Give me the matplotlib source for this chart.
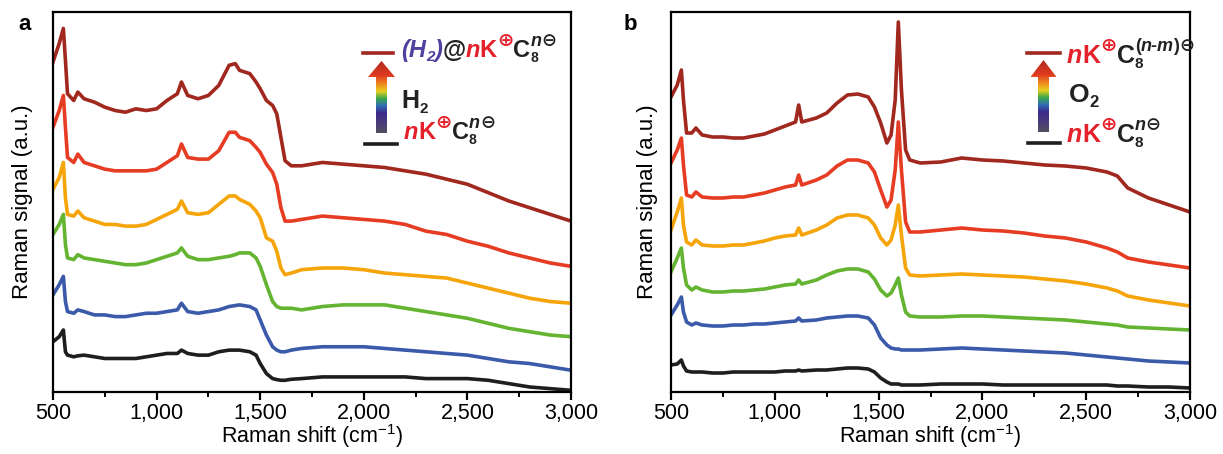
import numpy as np
import matplotlib
matplotlib.use('Agg')
import matplotlib.pyplot as plt
from matplotlib.patches import Polygon
from matplotlib.colors import LinearSegmentedColormap
from matplotlib.ticker import MultipleLocator

plt.rcParams.update({
    'font.family': ['Liberation Sans', 'DejaVu Sans'],
    'mathtext.default': 'regular',
    'font.size': 16,
    'axes.linewidth': 1.6,
    'xtick.major.width': 1.6,
    'xtick.minor.width': 1.4,
    'xtick.major.size': 6,
    'xtick.minor.size': 3.5,
    'xtick.direction': 'out',
    'xtick.labelsize': 15.5,
})

# ------------------------------------------------------------
# Data (arbitrary units)
# ------------------------------------------------------------
shift_a = [500, 530, 550, 560, 570, 600, 620, 650, 700, 750, 800, 850, 900, 950,
           1000, 1050, 1100, 1120, 1150, 1200, 1250, 1300, 1350, 1380, 1400, 1450,
           1480, 1500, 1530, 1560, 1580, 1600, 1620, 1650, 1700, 1800, 1900, 2000,
           2100, 2200, 2300, 2400, 2500, 2600, 2700, 2800, 2900, 3000]

a_black = [150, 165, 185, 120, 110, 105, 108, 110, 105, 100, 100, 100, 100, 105,
           110, 115, 115, 125, 115, 110, 110, 120, 125, 125, 125, 120,
           110, 85, 55, 40, 37, 35, 35, 38, 40, 45, 45, 45,
           45, 45, 40, 40, 40, 35, 25, 15, 10, 5]
a_blue = [290, 320, 345, 270, 240, 235, 245, 240, 230, 230, 225, 225, 230, 235,
          235, 240, 245, 265, 240, 235, 240, 245, 255, 258, 260, 255,
          245, 215, 170, 135, 125, 120, 120, 125, 130, 135, 135, 135,
          130, 125, 120, 115, 110, 100, 90, 85, 75, 65]
a_green = [470, 500, 530, 440, 400, 395, 410, 400, 395, 390, 385, 380, 380, 385,
           395, 405, 415, 430, 405, 395, 395, 400, 405, 410, 415, 415,
           400, 375, 320, 270, 255, 250, 250, 250, 245, 255, 260, 260,
           260, 250, 240, 230, 220, 205, 190, 180, 170, 165]
a_orange = [605, 640, 685, 580, 530, 525, 540, 520, 510, 500, 500, 495, 495, 500,
            515, 530, 545, 570, 535, 530, 535, 560, 585, 585, 575, 560,
            540, 520, 460, 450, 420, 370, 350, 355, 365, 370, 370, 365,
            355, 350, 345, 340, 325, 310, 295, 280, 270, 265]
a_red = [790, 840, 885, 790, 700, 685, 710, 685, 675, 665, 660, 660, 660, 660,
         665, 685, 705, 740, 700, 695, 695, 720, 775, 775, 760, 750,
         730, 715, 680, 655, 620, 550, 510, 510, 515, 525, 520, 515,
         510, 500, 480, 470, 450, 435, 415, 400, 385, 375]
a_darkred = [985, 1040, 1085, 990, 890, 870, 895, 875, 865, 850, 840, 835, 845, 840,
             845, 870, 890, 925, 885, 875, 885, 915, 975, 980, 960, 950,
             925, 905, 870, 855, 830, 760, 690, 675, 675, 685, 680, 675,
             670, 660, 650, 635, 620, 595, 570, 550, 530, 510]

shift_b = [500, 530, 550, 560, 575, 600, 620, 650, 700, 750, 800, 850, 900, 950,
           1000, 1050, 1100, 1115, 1130, 1200, 1250, 1300, 1350, 1400, 1450, 1480,
           1510, 1540, 1560, 1580, 1595, 1610, 1630, 1650, 1700, 1800, 1900, 2000,
           2100, 2200, 2300, 2400, 2500, 2600, 2650, 2700, 2800, 2900, 3000]

b_black = [27, 28, 32, 26, 21, 20, 20, 20, 19, 19, 20, 20, 20, 20,
           20, 21, 21, 22, 21, 22, 22, 23, 24, 24, 23, 20,
           14, 10, 8, 8, 8, 7, 7, 7, 7, 8, 8, 8,
           7, 7, 7, 7, 7, 7, 6, 6, 5, 5, 4]
b_blue = [77, 87, 95, 80, 70, 67, 69, 67, 66, 66, 67, 67, 68, 68,
          69, 70, 71, 74, 71, 72, 74, 75, 76, 76, 74, 67,
          54, 47, 44, 43, 43, 42, 42, 42, 42, 43, 44, 43,
          42, 41, 40, 39, 37, 35, 34, 33, 31, 30, 29]
b_green = [120, 134, 144, 124, 107, 102, 105, 102, 100, 100, 101, 101, 102, 103,
           105, 107, 108, 112, 108, 112, 117, 121, 123, 123, 120, 113,
           102, 96, 99, 107, 114, 97, 80, 76, 75, 75, 76, 76,
           75, 74, 73, 72, 70, 68, 67, 65, 64, 63, 62]
b_orange = [162, 180, 194, 167, 150, 147, 152, 147, 146, 146, 147, 147, 149, 151,
            154, 156, 157, 164, 157, 162, 167, 174, 177, 177, 174, 167,
            154, 147, 152, 167, 187, 157, 124, 117, 116, 117, 118, 117,
            116, 115, 113, 111, 108, 104, 101, 96, 92, 89, 86]
b_red = [229, 242, 254, 227, 197, 195, 200, 195, 194, 194, 195, 195, 197, 199,
         202, 205, 207, 217, 207, 212, 217, 226, 232, 232, 229, 220,
         202, 185, 192, 222, 270, 222, 170, 160, 160, 162, 164, 162,
         161, 159, 156, 154, 150, 144, 140, 134, 130, 127, 124]
b_darkred = [295, 307, 322, 292, 259, 259, 264, 257, 255, 255, 254, 254, 256, 258,
             262, 266, 270, 287, 270, 274, 279, 289, 297, 298, 295, 285,
             269, 249, 257, 292, 370, 302, 242, 232, 229, 230, 234, 232,
             231, 229, 227, 226, 224, 220, 216, 204, 194, 187, 180]

tick_values = [500, 1000, 1500, 2000, 2500, 3000]
tick_labels = ['500', '1,000', '1,500', '2,000', '2,500', '3,000']

colors = ['#1e1e1e', '#3c5aaa', '#64b432', '#f5a50a', '#e63c23', '#a0281e']
red_txt = '#e4202a'
purple_txt = '#5040a0'
black_txt = '#222222'

# ------------------------------------------------------------
# Figure
# ------------------------------------------------------------
W, H = 1223, 454
fig = plt.figure(figsize=(W / 100, H / 100), dpi=100)
ax1 = fig.add_axes([53 / W, 1 - 392 / H, 518 / W, 380 / H])
ax2 = fig.add_axes([671 / W, 1 - 392 / H, 519 / W, 380 / H])

panels = [
    (ax1, shift_a, [a_black, a_blue, a_green, a_orange, a_red, a_darkred], 1134, -0.039),
    (ax2, shift_b, [b_black, b_blue, b_green, b_orange, b_red, b_darkred], 380, -0.025),
]
for ax, xs, series, ytop, ylab_x in panels:
    for ys, c in zip(series, colors):
        ax.plot(xs, ys, color=c, lw=2.6, solid_joinstyle='round')
    ax.set_xlim(500, 3000)
    ax.set_ylim(0, ytop)
    ax.set_xticks(tick_values)
    ax.set_xticklabels(tick_labels)
    ax.xaxis.set_minor_locator(MultipleLocator(250))
    ax.tick_params(axis='x', which='both', top=False, pad=2)
    ax.set_yticks([])
    ax.set_ylabel('Raman signal (a.u.)', fontsize=16)
    ax.yaxis.set_label_coords(ylab_x, 0.5)
    ax.set_xlabel('Raman shift (cm$^{-1}$)', fontsize=15.5)
    ax.xaxis.set_label_coords(0.5, -0.08)

# overlay in pixel coordinates for annotations
ov = fig.add_axes([0, 0, 1, 1])
ov.axis('off')

ov.text(18, 30, 'a', fontsize=16, fontweight='bold', va='baseline')
ov.text(624, 30, 'b', fontsize=16, fontweight='bold', va='baseline')

renderer = fig.canvas.get_renderer()


def rich_text(x, y, pieces):
    for s, color, size, style, dy, adv in pieces:
        t = ov.text(x, y + dy, s, color=color, fontsize=size, fontweight='bold',
                    fontstyle=style, va='baseline', ha='left')
        if adv:
            x += t.get_window_extent(renderer).width


arrow_cmap = LinearSegmentedColormap.from_list('arrow', [
    (0.0, '#505060'), (0.15, '#4a3a7a'), (0.28, '#3b2a8c'), (0.38, '#2f6fb5'),
    (0.48, '#3aa84a'), (0.58, '#e8d020'), (0.68, '#f08a20'), (0.8, '#e03a20'),
    (1.0, '#b02a1e')])


def grad_arrow(xc, y_bot, y_head, y_tip, shaft_w, head_w):
    pts = [(xc - shaft_w / 2, y_bot), (xc - shaft_w / 2, y_head), (xc - head_w / 2, y_head),
           (xc, y_tip), (xc + head_w / 2, y_head), (xc + shaft_w / 2, y_head),
           (xc + shaft_w / 2, y_bot)]
    poly = Polygon(pts, closed=True, facecolor='none', edgecolor='none')
    ov.add_patch(poly)
    grad = np.linspace(0, 1, 256).reshape(-1, 1)
    im = ov.imshow(grad, cmap=arrow_cmap, origin='lower', aspect='auto',
                   extent=(xc - head_w / 2, xc + head_w / 2, y_bot, y_tip))
    im.set_clip_path(poly)


# panel a legend
ov.plot([363, 393], [53, 53], color=colors[5], lw=2.6)
ov.plot([365, 397], [144, 144], color=colors[0], lw=2.6)
grad_arrow(381.5, 133, 77, 61, 11, 27)
rich_text(401, 57, [
    ('(H', purple_txt, 17, 'italic', 0, True),
    ('2', purple_txt, 11, 'italic', 4, True),
    (')', purple_txt, 17, 'italic', 0, True),
    ('@', black_txt, 17, 'normal', 0, True),
    ('n', red_txt, 17, 'italic', 0, True),
    ('K', red_txt, 17, 'normal', 0, True),
    ('\u2295', red_txt, 14, 'normal', -11, True),
    ('C', black_txt, 17, 'normal', 0, True),
    ('8', black_txt, 10, 'normal', 5, False),
    ('n', black_txt, 13, 'italic', -11, True),
    ('\u2296', black_txt, 13, 'normal', -11, True),
])
rich_text(401, 108, [
    ('H', black_txt, 18, 'normal', 0, True),
    ('2', black_txt, 11, 'normal', 5, True),
])
rich_text(404, 139, [
    ('n', red_txt, 17, 'italic', 0, True),
    ('K', red_txt, 17, 'normal', 0, True),
    ('\u2295', red_txt, 14, 'normal', -11, True),
    ('C', black_txt, 17, 'normal', 0, True),
    ('8', black_txt, 10, 'normal', 5, False),
    ('n', black_txt, 13, 'italic', -11, True),
    ('\u2296', black_txt, 13, 'normal', -11, True),
])

# panel b legend
ov.plot([1027, 1060], [53, 53], color=colors[5], lw=2.6)
ov.plot([1028, 1060], [143, 143], color=colors[0], lw=2.6)
grad_arrow(1043.5, 132, 77, 60, 11, 26)
rich_text(1067, 63, [
    ('n', red_txt, 18, 'italic', 0, True),
    ('K', red_txt, 18, 'normal', 0, True),
    ('\u2295', red_txt, 14, 'normal', -12, True),
    ('C', black_txt, 18, 'normal', 0, True),
    ('8', black_txt, 11, 'normal', 5, False),
    ('(', black_txt, 13, 'normal', -12, True),
    ('n-m', black_txt, 13, 'italic', -12, True),
    (')', black_txt, 13, 'normal', -12, True),
    ('\u2296', black_txt, 13, 'normal', -12, True),
])
rich_text(1069, 102, [
    ('O', black_txt, 19, 'normal', 0, True),
    ('2', black_txt, 12, 'normal', 5, True),
])
rich_text(1067, 142, [
    ('n', red_txt, 18, 'italic', 0, True),
    ('K', red_txt, 18, 'normal', 0, True),
    ('\u2295', red_txt, 14, 'normal', -12, True),
    ('C', black_txt, 18, 'normal', 0, True),
    ('8', black_txt, 11, 'normal', 5, False),
    ('n', black_txt, 13, 'italic', -12, True),
    ('\u2296', black_txt, 13, 'normal', -12, True),
])

ov.set_xlim(0, W)
ov.set_ylim(H, 0)

fig.savefig('out.png', dpi=100)
